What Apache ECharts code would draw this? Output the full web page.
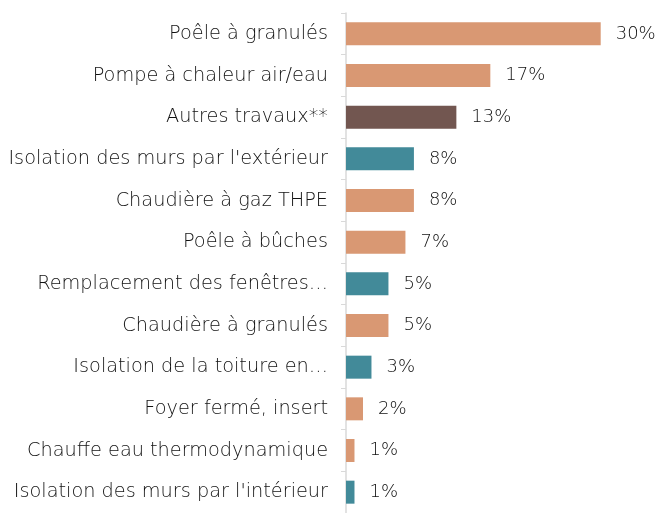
<!DOCTYPE html>
<html><head><meta charset="utf-8">
<script src="https://cdn.jsdelivr.net/npm/echarts@6/dist/echarts.min.js"></script>
<style>html,body{margin:0;padding:0;background:#fff}#c{width:658px;height:513px}</style>
</head><body><div id="c"></div>
<script>
const categories = [
  "Poêle à granulés",
  "Pompe à chaleur air/eau",
  "Autres travaux**",
  "Isolation des murs par l'extérieur",
  "Chaudière à gaz THPE",
  "Poêle à bûches",
  "Remplacement des fenêtres…",
  "Chaudière à granulés",
  "Isolation de la toiture en…",
  "Foyer fermé, insert",
  "Chauffe eau thermodynamique",
  "Isolation des murs par l'intérieur"
];
const values = [30, 17, 13, 8, 8, 7, 5, 5, 3, 2, 1, 1];
const groups = ["heat", "heat", "other", "insul", "heat", "heat", "insul", "heat", "insul", "heat", "heat", "insul"];
const groupColors = { heat: "#D99873", other: "#725650", insul: "#428A99" };

const chart = echarts.init(document.getElementById('c'), null, { renderer: 'canvas' });
chart.setOption({
  animation: false,
  grid: { left: 346, top: 13, width: 254.7, height: 504, containLabel: false },
  xAxis: { type: 'value', min: 0, max: 30, show: false },
  yAxis: {
    type: 'category', data: categories, inverse: true,
    axisLine: { show: true, lineStyle: { color: '#D9D9D9', width: 1.5 } },
    axisTick: { show: true, length: 5, lineStyle: { color: '#D9D9D9' } },
    axisLabel: { margin: 18, color: '#111', fontFamily: 'DejaVu Sans ExtraLight, DejaVu Sans', fontWeight: 200, fontSize: 19.3 }
  },
  series: [{
    type: 'bar', barWidth: 23,
    data: values.map((v, i) => ({ value: v, itemStyle: { color: groupColors[groups[i]] } })),
    label: { show: true, position: 'right', distance: 15, color: '#111', fontFamily: 'DejaVu Sans ExtraLight, DejaVu Sans', fontWeight: 200, fontSize: 18,
      formatter: p => Math.round(p.value) + '%' }
  }]
});
</script></body></html>
